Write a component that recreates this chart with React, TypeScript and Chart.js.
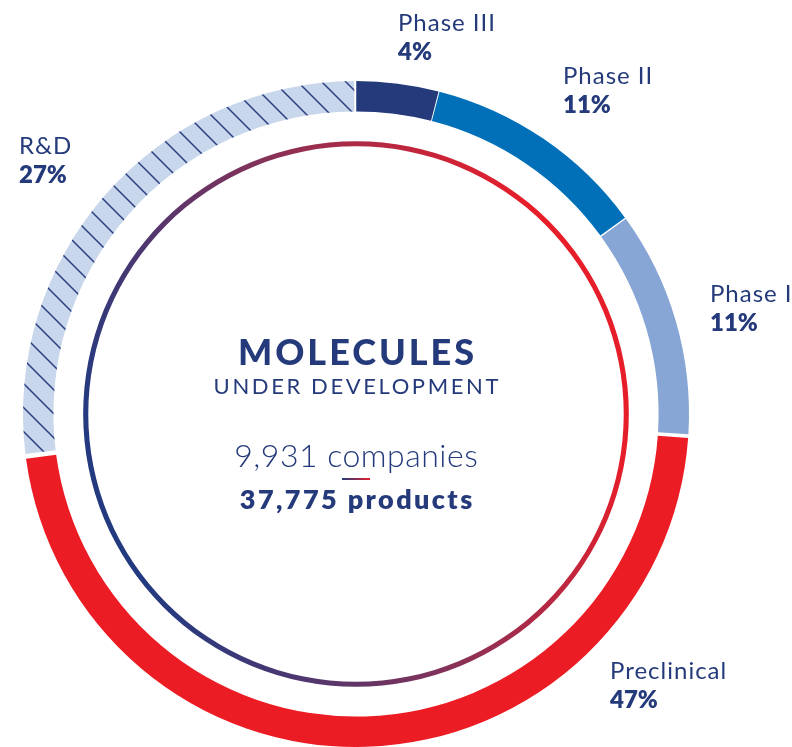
import React, { useEffect, useRef } from 'react';
import { Chart, registerables } from 'chart.js';

Chart.register(...registerables);

// ---- data ----
const STAGES = ['Phase III', 'Phase II', 'Phase I', 'Preclinical', 'R&D'];
const SHARES = [4, 11, 11, 47, 27];
const TITLE = 'MOLECULES';
const SUBTITLE = 'UNDER DEVELOPMENT';
const COMPANIES = '9,931 companies';
const PRODUCTS = '37,775 products';
const SPACER = [1];
const INNER_RING = [1];

// ---- styles / layout ----
const NAVY = '#243a7b';
const SEG_COLORS = ['#243a7b', '#0170b9', '#87a6d5', '#ec1c24'];
const HATCH_BG = '#c9d7ec';
const HATCH_LINE = '#2b3f80';
const LABEL_POS: [number, number][] = [
  [398, 31],
  [563, 84],
  [710, 302],
  [610, 679],
  [19, 154],
];
const FONT = 'Lato, "Open Sans", sans-serif';

function makeHatch(ctx: CanvasRenderingContext2D) {
  const s = 24;
  const c = document.createElement('canvas');
  c.width = s;
  c.height = s;
  const g = c.getContext('2d')!;
  g.fillStyle = HATCH_BG;
  g.fillRect(0, 0, s, s);
  g.strokeStyle = HATCH_LINE;
  g.lineWidth = 1.5;
  g.beginPath();
  g.moveTo(-3, -3);
  g.lineTo(s + 3, s + 3);
  g.moveTo(-3, s - 3);
  g.lineTo(3, s + 3);
  g.moveTo(s - 3, -3);
  g.lineTo(s + 3, 3);
  g.stroke();
  return ctx.createPattern(c, 'repeat');
}

function spacedText(ctx: CanvasRenderingContext2D, t: string, x: number, y: number, sp: number, center: boolean) {
  (ctx as any).letterSpacing = sp + 'px';
  ctx.fillText(t, center ? x + sp / 2 : x, y);
  (ctx as any).letterSpacing = '0px';
}

const textPlugin = {
  id: 'texts',
  afterDatasetsDraw(chart: any) {
    const ctx: CanvasRenderingContext2D = chart.ctx;
    const arc = chart.getDatasetMeta(0).data[0];
    if (!arc) return;
    const cx = arc.x;
    const cy = arc.y;
    ctx.save();
    ctx.fillStyle = NAVY;
    ctx.textBaseline = 'alphabetic';
    ctx.textAlign = 'left';
    STAGES.forEach((s, i) => {
      const [x, y] = LABEL_POS[i];
      ctx.font = `400 24px ${FONT}`;
      spacedText(ctx, s, x, y, 1, false);
      ctx.font = `800 24px ${FONT}`;
      ctx.fillText(SHARES[i] + '%', x, y + 29);
    });

    ctx.textAlign = 'center';
    ctx.font = `900 36px ${FONT}`;
    spacedText(ctx, TITLE, cx, cy - 49, 3, true);
    ctx.font = `400 22px ${FONT}`;
    spacedText(ctx, SUBTITLE, cx, cy - 20, 2.6, true);
    ctx.font = `300 32px ${FONT}`;
    spacedText(ctx, COMPANIES, cx, cy + 53, 0.5, true);
    const lg = ctx.createLinearGradient(cx - 14, 0, cx + 14, 0);
    lg.addColorStop(0, NAVY);
    lg.addColorStop(1, '#e61e2a');
    ctx.fillStyle = lg;
    ctx.fillRect(cx - 14, cy + 64, 28, 2);
    ctx.fillStyle = NAVY;
    ctx.font = `800 27px ${FONT}`;
    spacedText(ctx, PRODUCTS, cx, cy + 95, 2.4, true);
    ctx.restore();
  },
};

export default function App() {
  const ref = useRef<HTMLCanvasElement | null>(null);

  useEffect(() => {
    const canvas = ref.current;
    if (!canvas) return;
    const ctx = canvas.getContext('2d')!;
    const hatch = makeHatch(ctx);

    const ringGradient = (c: any) => {
      const chart = c.chart;
      const a = chart.chartArea;
      if (!a) return NAVY;
      const cx = (a.left + a.right) / 2;
      const cy = (a.top + a.bottom) / 2;
      const r = (a.right - a.left) / 2;
      const g = chart.ctx.createLinearGradient(cx - r * 0.94, cy + r * 0.34, cx + r * 0.94, cy - r * 0.34);
      g.addColorStop(0.12, '#243a80');
      g.addColorStop(0.5, '#853259');
      g.addColorStop(0.85, '#e61e2a');
      return g;
    };

    const chart = new Chart(canvas, {
      type: 'doughnut',
      data: {
        labels: STAGES,
        datasets: [
          {
            data: SHARES,
            backgroundColor: [...SEG_COLORS, hatch as any],
            borderWidth: 0,
            hoverBorderWidth: 0,
            offset: 0,
            hoverOffset: 0,
            spacing: 4,
            weight: 30,
          } as any,
          {
            data: SPACER,
            backgroundColor: 'rgba(0,0,0,0)',
            borderWidth: 0,
            hoverBorderWidth: 0,
            offset: 0,
            hoverOffset: 0,
            weight: 29,
          } as any,
          {
            data: INNER_RING,
            backgroundColor: ringGradient,
            hoverBackgroundColor: ringGradient,
            borderWidth: 0,
            hoverBorderWidth: 0,
            offset: 0,
            hoverOffset: 0,
            weight: 5,
          } as any,
        ],
      },
      options: {
        responsive: false,
        animation: false,
        cutout: '80.4%',
        rotation: 0,
        layout: { padding: { top: 81, left: 23, right: 103, bottom: 0 } },
        plugins: {
          legend: { display: false },
          tooltip: { enabled: false },
        },
        events: [],
      } as any,
      plugins: [textPlugin],
    });
    return () => chart.destroy();
  }, []);

  return (
    <div style={{ position: 'absolute', left: 0, top: 0, width: 792, height: 747, background: '#fff' }}>
      <canvas ref={ref} width={792} height={747} style={{ display: 'block' }} />
    </div>
  );
}
